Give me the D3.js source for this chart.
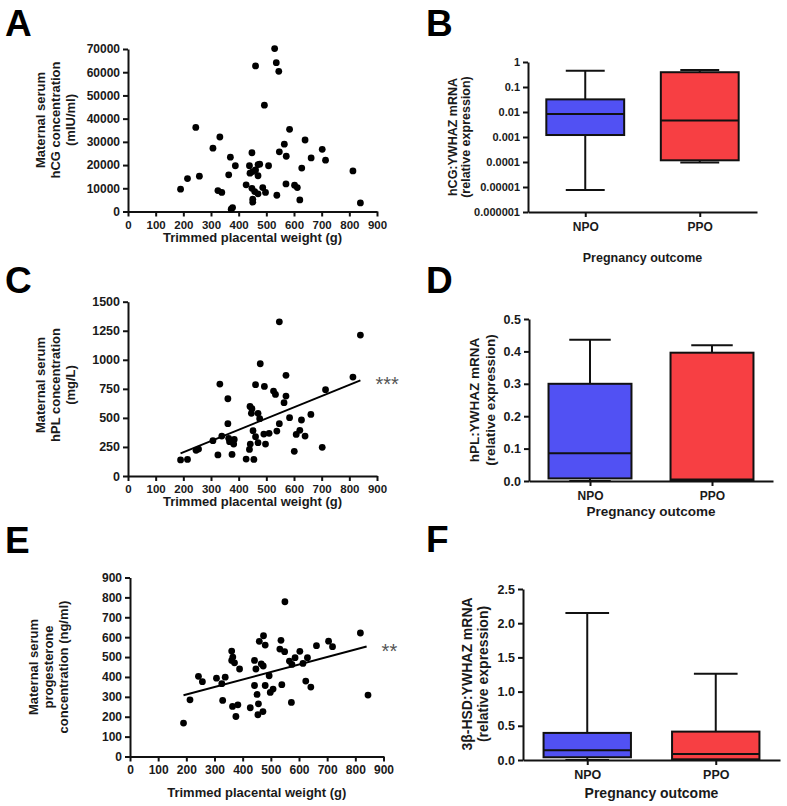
<!DOCTYPE html>
<html>
<head>
<meta charset="utf-8">
<script src="https://cdn.jsdelivr.net/npm/d3@7"></script>
<style>
  html, body { margin: 0; padding: 0; background: #fff; }
  svg { display: block; }
</style>
</head>
<body>
<script>
// ---------- DATA ----------
const weightTicks = [0, 100, 200, 300, 400, 500, 600, 700, 800, 900];

// Panel A: trimmed placental weight (g) vs maternal serum hCG (mIU/ml)
const aWeight = [190, 215, 258, 245, 307, 332, 325, 339, 364, 370, 388, 378, 373, 427, 439, 448, 441, 451, 461, 470, 448, 458, 470, 451, 451, 476, 470, 487, 461, 493, 497, 508, 530, 536, 545, 547, 538, 565, 572, 571, 584, 602, 612, 621, 628, 640, 662, 702, 714, 813, 840];
const aHCG    = [9600, 14200, 15200, 36200, 27300, 32100, 9000, 8200, 15800, 23400, 19700, 1700, 1000, 11500, 19700, 25300, 16500, 17200, 17900, 15400, 10000, 8600, 7600, 5300, 4000, 20400, 20200, 10300, 62700, 45800, 8200, 19700, 70200, 64100, 60400, 25700, 7000, 29000, 23800, 11900, 35400, 11300, 10300, 5000, 18700, 30800, 23100, 26800, 22100, 17500, 3700];
const aTicksY = [0, 10000, 20000, 30000, 40000, 50000, 60000, 70000];

// Panel C: weight vs maternal serum hPL (mg/L)
const cWeight = [190, 215, 246, 255, 307, 332, 325, 339, 361, 361, 364, 367, 376, 384, 382, 427, 439, 442, 441, 448, 446, 452, 455, 461, 461, 470, 470, 476, 478, 491, 493, 497, 510, 526, 533, 538, 547, 547, 564, 571, 571, 584, 601, 608, 621, 627, 640, 661, 702, 714, 813, 840];
const cHPL    = [138, 143, 221, 232, 304, 791, 181, 344, 665, 450, 324, 295, 186, 315, 275, 146, 229, 275, 599, 579, 539, 390, 143, 786, 338, 287, 539, 493, 966, 361, 771, 275, 367, 731, 702, 387, 1327, 450, 631, 688, 866, 502, 212, 358, 393, 482, 344, 530, 247, 743, 851, 1213];
const cTicksY = [0, 250, 500, 750, 1000, 1250, 1500];
const cFit = [[190, 195], [840, 823]];

// Panel E: weight vs maternal serum progesterone (ng/ml)
const eWeight = [190, 213, 243, 257, 307, 326, 338, 329, 361, 365, 361, 371, 389, 364, 383, 376, 427, 442, 447, 442, 451, 456, 454, 472, 459, 474, 480, 466, 473, 480, 494, 498, 508, 536, 532, 549, 539, 550, 566, 575, 573, 586, 603, 614, 630, 624, 642, 662, 705, 719, 818, 845];
const eProg   = [168, 285, 403, 376, 394, 366, 399, 282, 530, 500, 483, 471, 440, 252, 260, 201, 245, 483, 440, 357, 312, 265, 210, 226, 579, 607, 560, 466, 455, 357, 406, 322, 339, 584, 540, 527, 361, 778, 480, 463, 272, 497, 529, 468, 497, 379, 349, 557, 580, 552, 621, 309];
const eTicksY = [0, 100, 200, 300, 400, 500, 600, 700, 800, 900];
const eFit = [[190, 308], [840, 553]];

// Box plots: groups and five-number summaries
const groups = ["NPO", "PPO"];
const groupColors = ["#5151f3", "#f73f43"];

const bMin = [0.0000075, 0.000095];
const bQ1  = [0.0012, 0.000117];
const bMed = [0.0083, 0.0046];
const bQ3  = [0.032, 0.39];
const bMax = [0.45, 0.48];
const bTicks = [0.000001, 0.00001, 0.0001, 0.001, 0.01, 0.1, 1];
const bTickLabels = ["0.000001", "0.00001", "0.0001", "0.001", "0.01", "0.1", "1"];

const dMin = [0, 0];
const dQ1  = [0.008, 0.003];
const dMed = [0.086, 0.005];
const dQ3  = [0.30, 0.396];
const dMax = [0.436, 0.419];
const dTicks = [0, 0.1, 0.2, 0.3, 0.4, 0.5];

const fMin = [0, 0];
const fQ1  = [0.04, 0.01];
const fMed = [0.142, 0.088];
const fQ3  = [0.396, 0.415];
const fMax = [2.148, 1.26];
const fTicks = [0, 0.5, 1.0, 1.5, 2.0, 2.5];

// ---------- DRAWING ----------
const W = 787, H = 806;
const AX_FONT = "'Liberation Sans', Arial, sans-serif";
const svg = d3.select("body").append("svg")
  .attr("width", W).attr("height", H)
  .attr("viewBox", `0 0 ${W} ${H}`);
svg.append("rect").attr("width", W).attr("height", H).attr("fill", "#fff");

function styleAxis(sel, fontSize) {
  sel.select(".domain").attr("stroke", "#111").attr("stroke-width", 2);
  sel.selectAll(".tick line").attr("stroke", "#111").attr("stroke-width", 2);
  sel.selectAll(".tick text")
    .attr("fill", "#1a1a1a")
    .style("font-family", AX_FONT)
    .style("font-weight", "bold")
    .style("font-size", fontSize + "px");
}

function panelLetter(txt, x, y) {
  svg.append("text").attr("x", x).attr("y", y).text(txt)
    .style("font-family", AX_FONT)
    .style("font-weight", "bold")
    .style("font-size", "37px")
    .attr("fill", "#000");
}

function rotatedTitle(lines, xs, cy, fontSize) {
  lines.forEach((t, i) => {
    svg.append("text")
      .attr("transform", `translate(${xs[i]},${cy}) rotate(-90)`)
      .attr("text-anchor", "middle")
      .attr("dominant-baseline", "central")
      .text(t)
      .style("font-family", AX_FONT)
      .style("font-weight", "bold")
      .style("font-size", fontSize + "px")
      .attr("fill", "#1a1a1a");
  });
}

function hTitle(t, x, y, fontSize) {
  svg.append("text").attr("x", x).attr("y", y)
    .attr("text-anchor", "middle").text(t)
    .style("font-family", AX_FONT)
    .style("font-weight", "bold")
    .style("font-size", fontSize + "px")
    .attr("fill", "#1a1a1a");
}

function scatterPanel(cfg) {
  const x = d3.scaleLinear().domain([0, 900]).range([cfg.x0, cfg.x1]);
  const y = d3.scaleLinear().domain([0, cfg.ymax]).range([cfg.y0, cfg.y1]);
  const g = svg.append("g");

  const xa = g.append("g").attr("transform", `translate(0,${cfg.y0})`)
    .call(d3.axisBottom(x).tickValues(weightTicks).tickSize(5).tickSizeOuter(0).tickPadding(4));
  styleAxis(xa, cfg.xFont);
  const ya = g.append("g").attr("transform", `translate(${cfg.x0},0)`)
    .call(d3.axisLeft(y).tickValues(cfg.yticks).tickSize(5).tickSizeOuter(0).tickPadding(3)
      .tickFormat(d3.format("d")));
  styleAxis(ya, cfg.yFont);

  g.append("g").selectAll("circle")
    .data(d3.zip(cfg.wx, cfg.wy))
    .join("circle")
    .attr("cx", d => x(d[0]))
    .attr("cy", d => y(d[1]))
    .attr("r", 3.4)
    .attr("fill", "#000");

  if (cfg.fit) {
    g.append("path")
      .attr("d", d3.line().x(d => x(d[0])).y(d => y(d[1]))(cfg.fit))
      .attr("stroke", "#000").attr("stroke-width", 2).attr("fill", "none");
    const end = cfg.fit[cfg.fit.length - 1];
    g.append("text")
      .attr("x", x(end[0]) + 15).attr("y", y(end[1]) + 11)
      .text(cfg.stars)
      .style("font-family", AX_FONT)
      .style("font-size", "20px")
      .attr("fill", "#555");
  }

  rotatedTitle(cfg.yTitle, cfg.yTitleX, cfg.yTitleCY, 13);
  hTitle("Trimmed placental weight (g)", (cfg.x0 + cfg.x1) / 2, cfg.xTitleY, 13);
}

function boxPanel(cfg) {
  const x = d3.scalePoint().domain(groups).range([cfg.x0, cfg.x1]).padding(0.5);
  const y = cfg.log
    ? d3.scaleLog().domain([cfg.ticks[0], cfg.ticks[cfg.ticks.length - 1]]).range([cfg.y0, cfg.y1])
    : d3.scaleLinear().domain([cfg.ticks[0], cfg.ticks[cfg.ticks.length - 1]]).range([cfg.y0, cfg.y1]);
  const step = x.step();
  const bw = step * 0.68, cw = step * 0.34;
  const g = svg.append("g");

  const stats = groups.map((k, i) => ({
    k, i, min: cfg.min[i], q1: cfg.q1[i], med: cfg.med[i], q3: cfg.q3[i], max: cfg.max[i]
  }));

  stats.forEach(s => {
    const cx = x(s.k);
    g.append("line").attr("x1", cx).attr("x2", cx).attr("y1", y(s.q3)).attr("y2", y(s.max))
      .attr("stroke", "#111").attr("stroke-width", 2);
    g.append("line").attr("x1", cx - cw / 2).attr("x2", cx + cw / 2).attr("y1", y(s.max)).attr("y2", y(s.max))
      .attr("stroke", "#111").attr("stroke-width", 2);
    g.append("line").attr("x1", cx).attr("x2", cx).attr("y1", y(s.q1)).attr("y2", y(s.min))
      .attr("stroke", "#111").attr("stroke-width", 2);
    g.append("line").attr("x1", cx - cw / 2).attr("x2", cx + cw / 2).attr("y1", y(s.min)).attr("y2", y(s.min))
      .attr("stroke", "#111").attr("stroke-width", 2);
    g.append("rect")
      .attr("x", cx - bw / 2).attr("width", bw)
      .attr("y", y(s.q3)).attr("height", y(s.q1) - y(s.q3))
      .attr("fill", groupColors[s.i]).attr("stroke", "#111").attr("stroke-width", 2);
    g.append("line").attr("x1", cx - bw / 2).attr("x2", cx + bw / 2).attr("y1", y(s.med)).attr("y2", y(s.med))
      .attr("stroke", "#111").attr("stroke-width", 2);
  });

  const xa = g.append("g").attr("transform", `translate(0,${cfg.y0})`)
    .call(d3.axisBottom(x).tickSize(5).tickSizeOuter(0).tickPadding(5));
  styleAxis(xa, cfg.catFont);
  const yAxis = d3.axisLeft(y).tickValues(cfg.ticks).tickSize(5).tickSizeOuter(0).tickPadding(3);
  if (cfg.labels) yAxis.tickFormat((d, i) => cfg.labels[i]);
  else yAxis.tickFormat(d3.format(".1f"));
  const ya = g.append("g").attr("transform", `translate(${cfg.x0},0)`).call(yAxis);
  styleAxis(ya, cfg.tickFont);

  rotatedTitle(cfg.yTitle, cfg.yTitleX, cfg.yTitleCY, cfg.titleFont);
  hTitle("Pregnancy outcome", (cfg.x0 + cfg.x1) / 2, cfg.xTitleY, cfg.titleFont);
}

// Panel letters
panelLetter("A", 5, 36);
panelLetter("B", 426, 36);
panelLetter("C", 5, 293);
panelLetter("D", 426, 293);
panelLetter("E", 5, 553);
panelLetter("F", 426, 552);

// Scatter panels
scatterPanel({
  x0: 128, x1: 377, y0: 211.5, y1: 49, ymax: 70000, yticks: aTicksY,
  wx: aWeight, wy: aHCG, xFont: 11.5, yFont: 12,
  yTitle: ["Maternal serum", "hCG concentration", "(mIU/ml)"],
  yTitleX: [40, 55, 70], yTitleCY: 120, xTitleY: 242
});
scatterPanel({
  x0: 128, x1: 377, y0: 476, y1: 301.7, ymax: 1500, yticks: cTicksY,
  wx: cWeight, wy: cHPL, xFont: 11.5, yFont: 12.5,
  fit: cFit, stars: "***",
  yTitle: ["Maternal serum", "hPL concentration", "(mg/L)"],
  yTitleX: [40, 55, 70], yTitleCY: 385, xTitleY: 506
});
scatterPanel({
  x0: 130, x1: 383.5, y0: 756.5, y1: 577.5, ymax: 900, yticks: eTicksY,
  wx: eWeight, wy: eProg, xFont: 12, yFont: 12,
  fit: eFit, stars: "**",
  yTitle: ["Maternal serum", "progesterone", "concentration (ng/ml)"],
  yTitleX: [33, 48, 63], yTitleCY: 667, xTitleY: 797
});

// Box panels
boxPanel({
  x0: 528, x1: 757, y0: 212, y1: 62, log: true,
  ticks: bTicks, labels: bTickLabels,
  min: bMin, q1: bQ1, med: bMed, q3: bQ3, max: bMax,
  tickFont: 11, catFont: 12, titleFont: 12.5,
  yTitle: ["hCG:YWHAZ mRNA", "(relative expression)"],
  yTitleX: [453, 466], yTitleCY: 137, xTitleY: 262
});
boxPanel({
  x0: 529, x1: 773, y0: 481, y1: 319, log: false,
  ticks: dTicks,
  min: dMin, q1: dQ1, med: dMed, q3: dQ3, max: dMax,
  tickFont: 12.5, catFont: 12, titleFont: 13.5,
  yTitle: ["hPL:YWHAZ mRNA", "(relative expression)"],
  yTitleX: [474, 490], yTitleCY: 400, xTitleY: 516
});
boxPanel({
  x0: 523, x1: 780, y0: 760, y1: 589, log: false,
  ticks: fTicks,
  min: fMin, q1: fQ1, med: fMed, q3: fQ3, max: fMax,
  tickFont: 12.5, catFont: 12.5, titleFont: 14,
  yTitle: ["3β-HSD:YWHAZ mRNA", "(relative expression)"],
  yTitleX: [467, 483], yTitleCY: 674, xTitleY: 798
});
</script>
</body>
</html>
